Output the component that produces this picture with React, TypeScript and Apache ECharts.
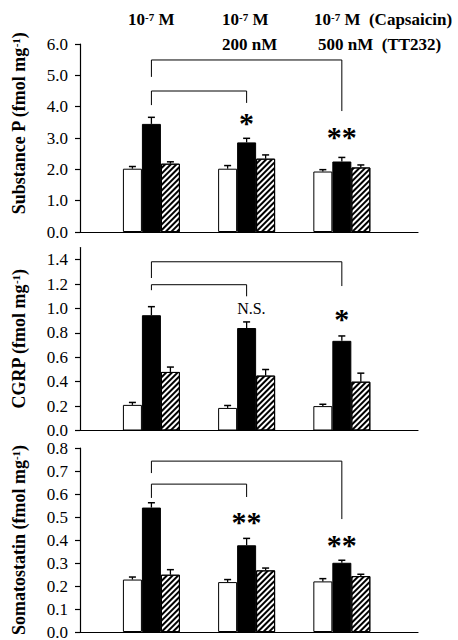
import React, { useEffect, useRef } from "react";
import * as echarts from "echarts";

const FONT = "'Liberation Serif', 'Times New Roman', serif";

// group positions on the x value axis (0 = 10^-7 M, 1 = +200 nM, 2 = +500 nM)
const groupPos = [0, 1, 2];

// Substance P
const spWhite = [2.02, 2.02, 1.93];
const spWhiteErr = [2.09, 2.12, 1.99];
const spBlack = [3.45, 2.86, 2.25];
const spBlackErr = [3.66, 2.99, 2.38];
const spHatch = [2.18, 2.34, 2.06];
const spHatchErr = [2.24, 2.46, 2.14];
const spTicks = [0, 1, 2, 3, 4, 5, 6];
const spBrackets = [
  [[0, 4.95], [0, 5.49], [2, 5.49], [2, 3.86]],
  [[0, 4.05], [0, 4.5], [1, 4.5], [1, 4.12]],
];
const spMarkX = [1, 2];
const spMarkY = [3.62, 3.19];
const spMarkText = ["*", "**"];

// CGRP
const cgWhite = [0.21, 0.185, 0.2];
const cgWhiteErr = [0.23, 0.205, 0.215];
const cgBlack = [0.945, 0.84, 0.735];
const cgBlackErr = [1.015, 0.89, 0.775];
const cgHatch = [0.48, 0.45, 0.4];
const cgHatchErr = [0.52, 0.5, 0.47];
const cgTicks = [0, 0.2, 0.4, 0.6, 0.8, 1.0, 1.2, 1.4];
const cgBrackets = [
  [[0, 1.25], [0, 1.383], [2, 1.383], [2, 1.184]],
  [[0, 1.15], [0, 1.195], [1, 1.195], [1, 1.1]],
];
const cgMarkX = [1.05, 2];
const cgMarkY = [1.0, 0.947];
const cgMarkText = ["N.S.", "*"];

// Somatostatin
const ssWhite = [0.228, 0.217, 0.22];
const ssWhiteErr = [0.239, 0.228, 0.232];
const ssBlack = [0.541, 0.377, 0.301];
const ssBlackErr = [0.562, 0.407, 0.312];
const ssHatch = [0.249, 0.268, 0.243];
const ssHatchErr = [0.271, 0.278, 0.251];
const ssTicks = [0, 0.1, 0.2, 0.3, 0.4, 0.5, 0.6, 0.7, 0.8];
const ssBrackets = [
  [[0, 0.691], [0, 0.743], [2, 0.743], [2, 0.491]],
  [[0, 0.583], [0, 0.643], [1, 0.643], [1, 0.587]],
];
const ssMarkX = [1, 2];
const ssMarkY = [0.496, 0.4];
const ssMarkText = ["**", "**"];

const BAR_W = 19;

const panels = [
  {
    name: "{b|Substance P (fmol mg}{s|-1}{b|)}",
    max: 6, interval: 1, ticks: spTicks,
    white: spWhite, whiteErr: spWhiteErr, black: spBlack, blackErr: spBlackErr, hatch: spHatch, hatchErr: spHatchErr,
    brackets: spBrackets, markX: spMarkX, markY: spMarkY, markText: spMarkText,
    top: 44, height: 188, namePad: [0, 0, 0, 29],
  },
  {
    name: "{b|CGRP (fmol mg}{s|-1}{b|)}",
    max: 1.5, interval: 0.2, ticks: cgTicks,
    white: cgWhite, whiteErr: cgWhiteErr, black: cgBlack, blackErr: cgBlackErr, hatch: cgHatch, hatchErr: cgHatchErr,
    brackets: cgBrackets, markX: cgMarkX, markY: cgMarkY, markText: cgMarkText,
    top: 247.5, height: 183, namePad: [0, 0, 0, 0],
  },
  {
    name: "{b|Somatostatin (fmol mg}{s|-1}{b|)}",
    max: 0.8, interval: 0.1, ticks: ssTicks,
    white: ssWhite, whiteErr: ssWhiteErr, black: ssBlack, blackErr: ssBlackErr, hatch: ssHatch, hatchErr: ssHatchErr,
    brackets: ssBrackets, markX: ssMarkX, markY: ssMarkY, markText: ssMarkText,
    top: 448, height: 184, namePad: [0, 0, 0, 0],
  },
];

const headerRich = {
  b: { fontSize: 17, fontWeight: "bold", fontFamily: FONT, fill: "#000" },
  s: { fontSize: 11, fontWeight: "bold", fontFamily: FONT, fill: "#000", verticalAlign: "top" },
};

function buildOption() {
  const grid: any[] = [];
  const xAxis: any[] = [];
  const yAxis: any[] = [];
  const series: any[] = [];
  const axisLineStyle = { color: "#000", width: 1.2 };

  panels.forEach((p, i) => {
    grid.push({ left: 80, width: 338, top: p.top, height: p.height, outerBoundsMode: "none", containLabel: false });
    xAxis.push({
      gridIndex: i, type: "value", min: -0.75, max: 2.8,
      axisLine: { show: true, onZero: false, lineStyle: axisLineStyle },
      axisTick: { show: false }, axisLabel: { show: false }, splitLine: { show: false },
    });
    yAxis.push({
      gridIndex: i, type: "value", min: 0, max: p.max, interval: p.interval,
      axisLine: { show: true, onZero: false, lineStyle: axisLineStyle },
      axisTick: { show: true, inside: false, length: 5, customValues: p.ticks, lineStyle: axisLineStyle },
      axisLabel: {
        customValues: p.ticks, formatter: (v: number) => (v > p.ticks[p.ticks.length - 1] + 1e-6 ? "" : v.toFixed(1)),
        fontSize: 17, fontFamily: FONT, color: "#000", margin: 12,
      },
      splitLine: { show: false },
      name: p.name, nameLocation: "middle", nameGap: 52, nameRotate: 90,
      nameTextStyle: {
        padding: p.namePad,
        rich: {
          b: { fontSize: 18, fontWeight: "bold", fontFamily: FONT, color: "#000" },
          s: { fontSize: 11, fontWeight: "bold", fontFamily: FONT, color: "#000", verticalAlign: "top" },
        },
      },
    });

    const barBase = { type: "bar", xAxisIndex: i, yAxisIndex: i, barWidth: BAR_W, barGap: "0%", silent: true };
    series.push({
      ...barBase, name: "basal",
      data: groupPos.map((g, k) => [g, p.white[k]]),
      itemStyle: { color: "#fff", borderColor: "#000", borderWidth: 1 },
    });
    series.push({
      ...barBase, name: "capsaicin",
      data: groupPos.map((g, k) => [g, p.black[k]]),
      itemStyle: { color: "#000", borderColor: "#000", borderWidth: 1 },
    });
    series.push({
      ...barBase, name: "after",
      data: groupPos.map((g, k) => [g, p.hatch[k]]),
      itemStyle: {
        color: "#fff", borderColor: "#000", borderWidth: 1,
        decal: { symbol: "rect", symbolSize: 1, color: "#000", backgroundColor: "#fff", dashArrayX: [1, 0], dashArrayY: [1.3, 1.7], rotation: -Math.PI / 4 },
      },
    });

    // error bars
    const errData: any[] = [];
    groupPos.forEach((g, k) => {
      errData.push([g, p.white[k], p.whiteErr[k], -1]);
      errData.push([g, p.black[k], p.blackErr[k], 0]);
      errData.push([g, p.hatch[k], p.hatchErr[k], 1]);
    });
    series.push({
      type: "custom", xAxisIndex: i, yAxisIndex: i, z: 5, silent: true,
      data: errData,
      renderItem: (_params: any, api: any) => {
        const a = api.coord([api.value(0), api.value(1)]);
        const b = api.coord([api.value(0), api.value(2)]);
        const x = a[0] + api.value(3) * BAR_W;
        return {
          type: "group",
          children: [
            { type: "line", shape: { x1: x, y1: a[1], x2: x, y2: b[1] }, style: { stroke: "#000", lineWidth: 1.3 } },
            { type: "line", shape: { x1: x - 3.5, y1: b[1], x2: x + 3.5, y2: b[1] }, style: { stroke: "#000", lineWidth: 1.5 } },
          ],
        };
      },
    });

    // significance brackets
    p.brackets.forEach((br) => {
      series.push({
        type: "line", xAxisIndex: i, yAxisIndex: i, data: br, symbol: "none", silent: true, z: 4,
        lineStyle: { color: "#000", width: 1 },
      });
    });

    // asterisks / N.S.
    series.push({
      type: "custom", xAxisIndex: i, yAxisIndex: i, z: 6, silent: true,
      data: p.markX.map((x, k) => [x, p.markY[k], k]),
      renderItem: (_params: any, api: any) => {
        const pt = api.coord([api.value(0), api.value(1)]);
        const t = p.markText[api.value(2)];
        const isStar = t.indexOf("*") >= 0;
        return {
          type: "text",
          x: pt[0],
          y: pt[1] + (isStar ? 4 : 0),
          style: {
            text: t,
            font: isStar ? `bold 30px ${FONT}` : `16px ${FONT}`,
            fill: "#000",
            align: "center",
            verticalAlign: "middle",
          },
        };
      },
    });
  });

  const graphic = [
    { type: "text", x: 128, y: 19.5, style: { text: "{b|10}{s|-7}{b| M}", rich: headerRich, verticalAlign: "middle", align: "left" } },
    { type: "text", x: 222, y: 19.5, style: { text: "{b|10}{s|-7}{b| M}", rich: headerRich, verticalAlign: "middle", align: "left" } },
    { type: "text", x: 222, y: 44.5, style: { text: "{b|200 nM}", rich: headerRich, verticalAlign: "middle", align: "left" } },
    { type: "text", x: 314, y: 19.5, style: { text: "{b|10}{s|-7}{b| M  (Capsaicin)}", rich: headerRich, verticalAlign: "middle", align: "left" } },
    { type: "text", x: 318, y: 44.5, style: { text: "{b|500 nM  (TT232)}", rich: headerRich, verticalAlign: "middle", align: "left" } },
  ];

  return { animation: false, backgroundColor: "#fff", grid, xAxis, yAxis, series, graphic };
}

export default function App() {
  const ref = useRef<HTMLDivElement>(null);
  useEffect(() => {
    if (!ref.current) return;
    const chart = echarts.init(ref.current, undefined, { renderer: "svg" });
    chart.setOption(buildOption() as any);
    return () => chart.dispose();
  }, []);
  return (
    <div
      ref={ref}
      style={{ position: "fixed", left: 0, top: 0, width: 458, height: 640, background: "#fff" }}
    />
  );
}
